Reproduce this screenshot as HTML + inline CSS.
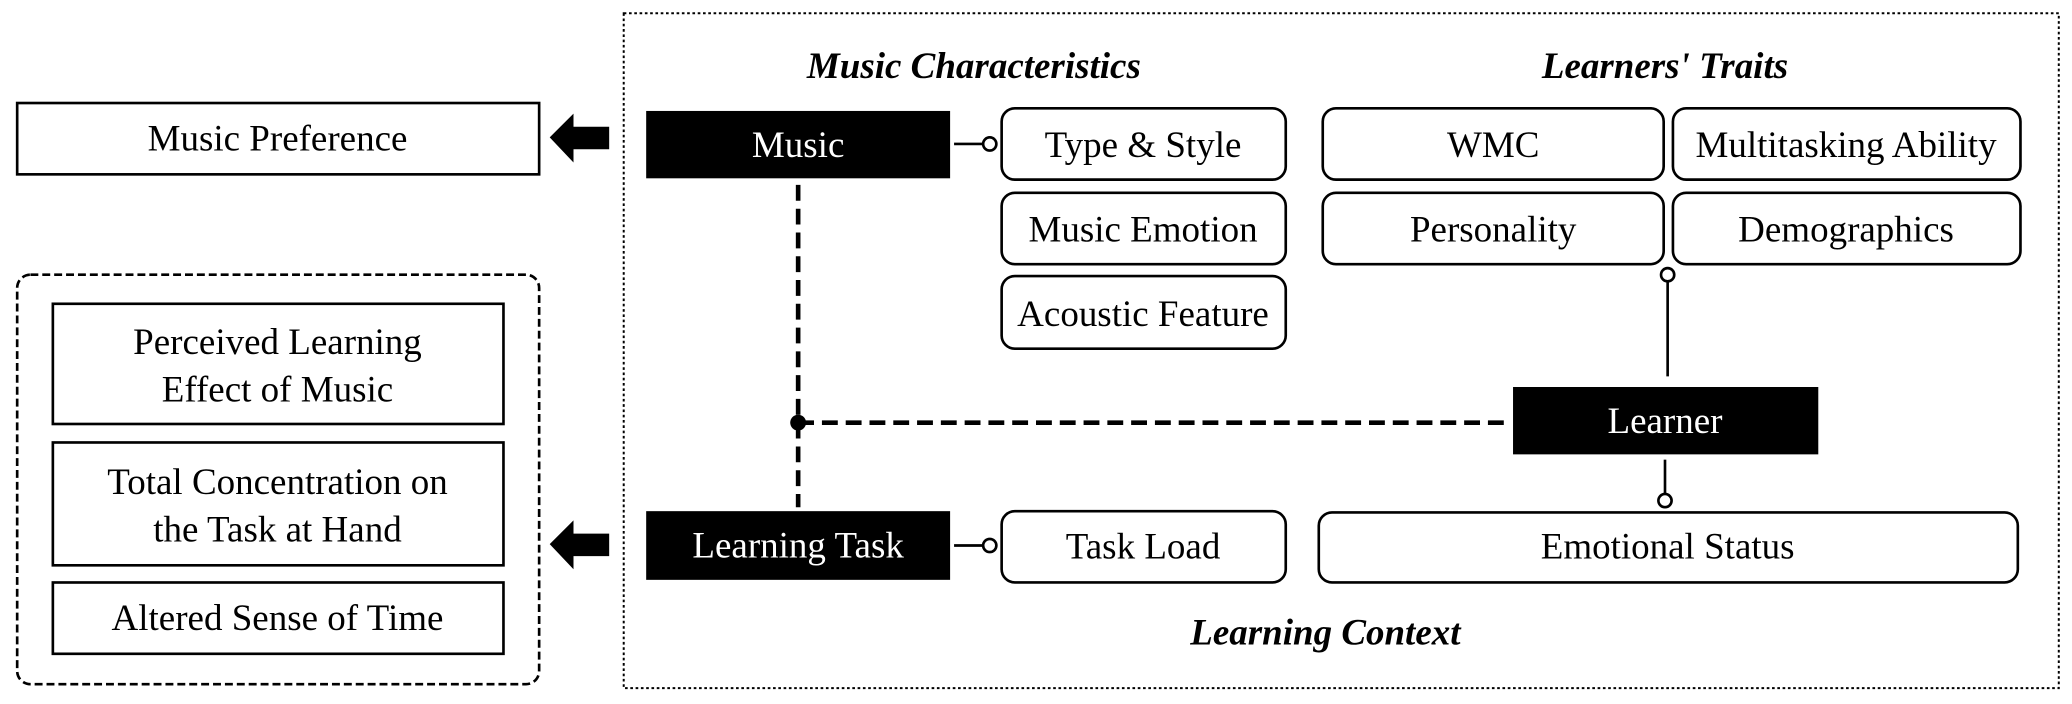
<!DOCTYPE html>
<html><head><meta charset="utf-8"><style>html,body{margin:0;padding:0;background:#fff}svg{display:block}</style></head>
<body>
<svg width="2072" height="704" viewBox="0 0 1568 533" preserveAspectRatio="none" xmlns="http://www.w3.org/2000/svg" font-family="Liberation Serif, serif" font-size="28">
<rect x="472" y="10" width="1086" height="511" fill="none" stroke="#000" stroke-width="1.5" stroke-dasharray="2,2"/>
<rect x="13" y="78" width="395" height="54" fill="#fff" stroke="#000" stroke-width="2"/>
<text x="210" y="114" text-anchor="middle">Music Preference</text>
<polygon points="416,104 434,86 434,96 461,96 461,113 434,113 434,123" fill="#000"/>
<polygon points="416,412 434,394 434,404 461,404 461,421 434,421 434,431" fill="#000"/>
<rect x="13" y="208" width="395" height="310" rx="10" fill="none" stroke="#000" stroke-width="2" stroke-dasharray="6,3"/>
<rect x="40" y="230" width="341" height="91" fill="#fff" stroke="#000" stroke-width="2"/>
<text x="210" y="268" text-anchor="middle">Perceived Learning</text>
<text x="210" y="304" text-anchor="middle">Effect of Music</text>
<rect x="40" y="335" width="341" height="93" fill="#fff" stroke="#000" stroke-width="2"/>
<text x="210" y="374" text-anchor="middle">Total Concentration on</text>
<text x="210" y="410" text-anchor="middle">the Task at Hand</text>
<rect x="40" y="441" width="341" height="54" fill="#fff" stroke="#000" stroke-width="2"/>
<text x="210" y="477" text-anchor="middle">Altered Sense of Time</text>
<g font-weight="bold" font-style="italic">
<text x="737" y="59" text-anchor="middle">Music Characteristics</text>
<text x="1260" y="59" text-anchor="middle">Learners' Traits</text>
<text x="1003" y="488" text-anchor="middle">Learning Context</text>
</g>
<line x1="604" y1="140" x2="604" y2="384" stroke="#000" stroke-width="3.5" stroke-dasharray="12,6"/>
<line x1="604" y1="320" x2="1143" y2="320" stroke="#000" stroke-width="3.5" stroke-dasharray="12,6"/>
<circle cx="604" cy="320" r="6" fill="#000"/>
<rect x="489" y="84" width="230" height="51" fill="#000"/>
<text x="604" y="119" text-anchor="middle" fill="#fff">Music</text>
<rect x="489" y="387" width="230" height="52" fill="#000"/>
<text x="604" y="422" text-anchor="middle" fill="#fff">Learning Task</text>
<rect x="1145" y="293" width="231" height="51" fill="#000"/>
<text x="1260" y="328" text-anchor="middle" fill="#fff">Learner</text>
<g stroke="#000" stroke-width="2" fill="#fff">
<line x1="722" y1="109" x2="744" y2="109"/><circle cx="749" cy="109" r="5"/>
<line x1="722" y1="413" x2="744" y2="413"/><circle cx="749" cy="413" r="5"/>
<line x1="1262" y1="213" x2="1262" y2="285"/><circle cx="1262" cy="208" r="5"/>
<line x1="1260" y1="348" x2="1260" y2="374"/><circle cx="1260" cy="379" r="5"/>
<rect x="758" y="82" width="215" height="54" rx="10"/>
<rect x="758" y="146" width="215" height="54" rx="10"/>
<rect x="758" y="209" width="215" height="55" rx="10"/>
<rect x="1001" y="82" width="258" height="54" rx="10"/>
<rect x="1266" y="82" width="263" height="54" rx="10"/>
<rect x="1001" y="146" width="258" height="54" rx="10"/>
<rect x="1266" y="146" width="263" height="54" rx="10"/>
<rect x="758" y="387" width="215" height="54" rx="10"/>
<rect x="998" y="388" width="529" height="53" rx="10"/>
</g>
<g text-anchor="middle">
<text x="865" y="119">Type &amp; Style</text>
<text x="865" y="183">Music Emotion</text>
<text x="865" y="247">Acoustic Feature</text>
<text x="1130" y="119">WMC</text>
<text x="1397" y="119">Multitasking Ability</text>
<text x="1130" y="183">Personality</text>
<text x="1397" y="183">Demographics</text>
<text x="865" y="423">Task Load</text>
<text x="1262" y="423">Emotional Status</text>
</g>
</svg>
</body></html>
